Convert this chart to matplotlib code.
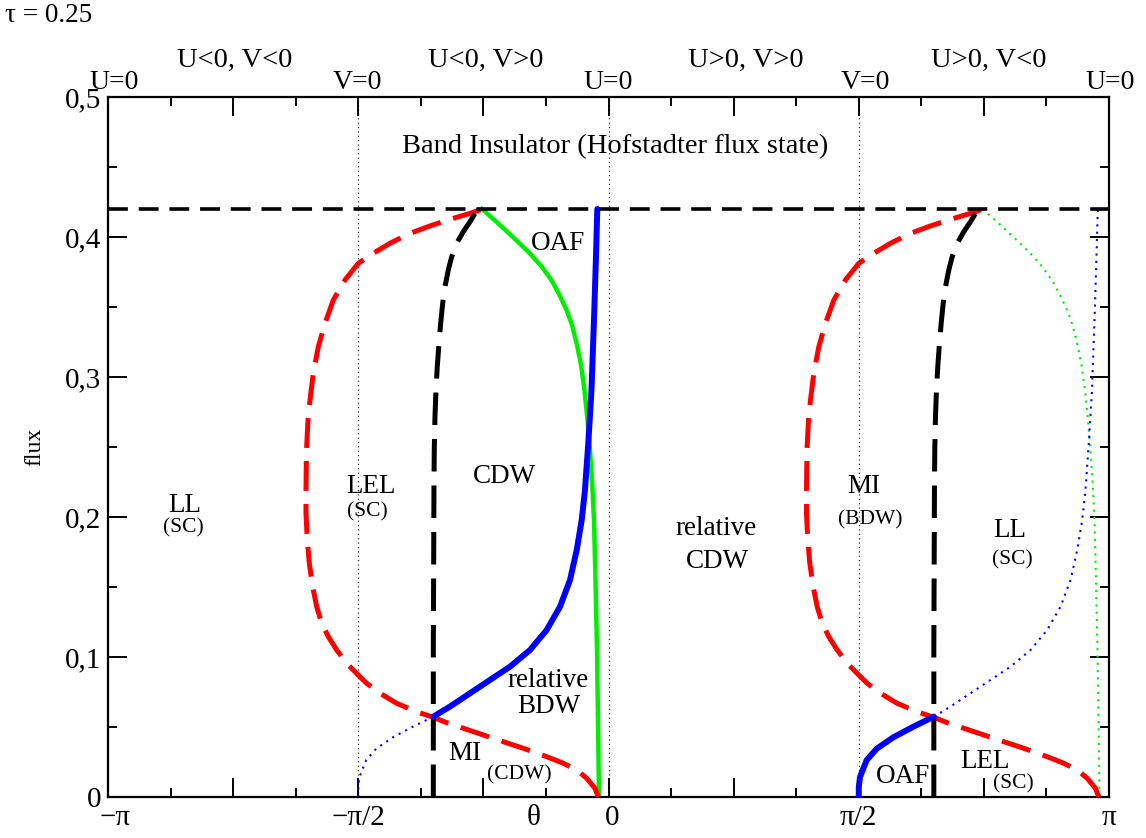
import matplotlib.pyplot as plt
import matplotlib.transforms as mtransforms
import numpy as np
from matplotlib.ticker import MultipleLocator

plt.rcParams['font.family'] = ['Liberation Serif', 'DejaVu Serif']

# theta values are stored in units of pi, flux in flux quanta
flux_band = 0.42

# ---- left half (theta < 0) ----
red_l_th = [-0.0204, -0.0270, -0.0436, -0.0635, -0.0903, -0.1235, -0.1702, -0.2102, -0.2501, -0.2901,
            -0.3233, -0.3500, -0.3832, -0.4232, -0.4565, -0.4831, -0.4999, -0.5199, -0.5431, -0.5598,
            -0.5730, -0.5830, -0.5910, -0.5978, -0.6018, -0.6044, -0.6044, -0.6034, -0.6004, -0.5964,
            -0.5898, -0.5798, -0.5664, -0.5498, -0.5265, -0.4999, -0.4699, -0.4366, -0.3966, -0.3566,
            -0.3167, -0.2767, -0.2560]
red_l_fl = [0.0, 0.0062, 0.0134, 0.0193, 0.0241, 0.0288, 0.0348, 0.0395, 0.0443, 0.0491,
            0.0531, 0.0569, 0.0609, 0.0669, 0.0741, 0.0812, 0.0871, 0.0943, 0.1050, 0.1145,
            0.1241, 0.1359, 0.1502, 0.1669, 0.1836, 0.2026, 0.2193, 0.2479, 0.2693, 0.2836,
            0.3026, 0.3216, 0.3384, 0.3550, 0.3693, 0.3812, 0.3884, 0.3955, 0.4026, 0.4079,
            0.4126, 0.4169, 0.4195]

blk_l_th = [-0.3500, -0.3500, -0.3492, -0.3487, -0.3481, -0.3467, -0.3447, -0.3421, -0.3387, -0.3353,
            -0.3313, -0.3267, -0.3201, -0.3133, -0.3033, -0.2901, -0.2767, -0.2667, -0.2580]
blk_l_fl = [0.0, 0.105, 0.1764, 0.2241, 0.2479, 0.2716, 0.2907, 0.3074, 0.3241, 0.3384,
            0.3526, 0.3645, 0.3764, 0.3859, 0.3955, 0.4038, 0.4109, 0.4169, 0.4200]

grn_l_th = [-0.2527, -0.2168, -0.1868, -0.1568, -0.1329, -0.1129, -0.0969, -0.0829, -0.0729, -0.0629,
            -0.0549, -0.0480, -0.0420, -0.0370, -0.0330, -0.0290, -0.0260, -0.0230, -0.0210, -0.0190]
grn_l_fl = [0.42, 0.4086, 0.3986, 0.3882, 0.3786, 0.3686, 0.3579, 0.3471, 0.3371, 0.3229,
            0.3086, 0.2907, 0.2693, 0.2479, 0.2264, 0.1979, 0.1550, 0.1050, 0.0550, 0.0]

blu_l_solid_th = [-0.3500, -0.3167, -0.2767, -0.2368, -0.1968, -0.1568, -0.1235, -0.0969, -0.0769,
                  -0.0635, -0.0535, -0.0470, -0.0404, -0.0340, -0.0290, -0.0250, -0.0224]
blu_l_solid_fl = [0.0574, 0.0646, 0.0741, 0.0836, 0.0931, 0.1050, 0.1193, 0.1359, 0.1550,
                  0.1764, 0.1979, 0.2193, 0.2526, 0.2907, 0.3407, 0.3859, 0.42]

blu_l_dot_th = [-0.5000, -0.4999, -0.4975, -0.4841, -0.4641, -0.4310, -0.3910, -0.3500]
blu_l_dot_fl = [0.0, 0.0071, 0.0143, 0.0264, 0.0345, 0.0426, 0.0502, 0.0574]

# ---- right half (theta > 0) ----
red_r_th = [0.9796, 0.9730, 0.9564, 0.9365, 0.9097, 0.8765, 0.8298, 0.7898, 0.7499, 0.7099,
            0.6767, 0.6500, 0.6168, 0.5768, 0.5435, 0.5169, 0.5001, 0.4801, 0.4569, 0.4402,
            0.4270, 0.4170, 0.4090, 0.4022, 0.3982, 0.3956, 0.3956, 0.3966, 0.3996, 0.4036,
            0.4102, 0.4202, 0.4336, 0.4502, 0.4735, 0.5001, 0.5301, 0.5634, 0.6034, 0.6434,
            0.6833, 0.7233, 0.7440]
red_r_fl = red_l_fl

blk_r_th = [0.6500, 0.6500, 0.6508, 0.6513, 0.6519, 0.6533, 0.6553, 0.6579, 0.6613, 0.6647,
            0.6687, 0.6733, 0.6799, 0.6867, 0.6967, 0.7099, 0.7233, 0.7333, 0.7420]
blk_r_fl = blk_l_fl

grn_r_th = [0.7473, 0.7832, 0.8132, 0.8432, 0.8671, 0.8871, 0.9031, 0.9171, 0.9271, 0.9371,
            0.9451, 0.9520, 0.9580, 0.9630, 0.9670, 0.9710, 0.9740, 0.9770, 0.9790, 0.9810]
grn_r_fl = grn_l_fl

blu_r_solid_th = [0.5000, 0.5001, 0.5025, 0.5159, 0.5359, 0.5690, 0.6090, 0.6500]
blu_r_solid_fl = blu_l_dot_fl

blu_r_dot_th = [0.6500, 0.6833, 0.7233, 0.7632, 0.8032, 0.8432, 0.8765, 0.9031, 0.9231,
                0.9365, 0.9465, 0.9530, 0.9596, 0.9660, 0.9710, 0.9750, 0.9776]
blu_r_dot_fl = blu_l_solid_fl

PI = np.pi
def th(v):
    return np.array(v) * PI

fig = plt.figure(figsize=(11.46, 8.38), dpi=100)
ax = fig.add_axes([108/1146, 1 - 797/838, 1001/1146, 700/838])

# phase boundaries U=0 / V=0
for x in (-PI/2, 0, PI/2):
    ax.axvline(x, color='#333333', lw=0.9, ls=(0, (1, 2.5)), zorder=1)

red_kw = dict(color='#ff0000', lw=3.6, ls=(0, (6, 2.6)), zorder=3)
blk_kw = dict(color='black', lw=3.6, ls=(0, (6.5, 2.8)), zorder=3)

ax.plot(th(red_l_th), red_l_fl, **red_kw)
ax.plot(th(red_r_th), red_r_fl, **red_kw)
ax.plot(th(blk_l_th), blk_l_fl, **blk_kw)
ax.plot(th(blk_r_th), blk_r_fl, **blk_kw)

ax.plot(th(grn_l_th), grn_l_fl, color='#00ee00', lw=3.2, zorder=2)
ax.plot(th(grn_r_th), grn_r_fl, color='#00ee00', lw=1.5, ls=(0, (1, 2.5)), zorder=2)

ax.plot(th(blu_l_solid_th), blu_l_solid_fl, color='#0000ff', lw=4.3, zorder=4, solid_capstyle='round')
ax.plot(th(blu_r_solid_th), blu_r_solid_fl, color='#0000ff', lw=4.3, zorder=4, solid_capstyle='round')
ax.plot(th(blu_l_dot_th), blu_l_dot_fl, color='#0000ff', lw=1.5, ls=(0, (1, 2.5)), zorder=2)
ax.plot(th(blu_r_dot_th), blu_r_dot_fl, color='#0000ff', lw=1.5, ls=(0, (1, 2.5)), zorder=2)

ax.axhline(flux_band, color='black', lw=2.6, ls=(0, (5.5, 3)), zorder=5)

ax.set_xlim(-PI, PI)
ax.set_ylim(0, 0.5)

ax.set_xticks(np.arange(-4, 5) * PI / 4)
ax.set_xticklabels(['\u2212\u03c0', '', '\u2212\u03c0/2', '', '0', '', '\u03c0/2', '', '\u03c0'])
ax.xaxis.set_minor_locator(MultipleLocator(PI / 8))
ax.set_yticks([0, 0.1, 0.2, 0.3, 0.4, 0.5])
ax.set_yticklabels(['0', '0,1', '0,2', '0,3', '0,4', '0,5'])
ax.yaxis.set_minor_locator(MultipleLocator(0.05))
ax.tick_params(which='both', direction='in', top=True, right=True, width=1.4, labelsize=21)
ax.tick_params(which='major', length=13.5)
ax.tick_params(which='minor', length=6.5)
ax.tick_params(axis='x', pad=6)
ax.tick_params(axis='y', pad=5)
for s in ax.spines.values():
    s.set_linewidth(1.6)

# nudge "-pi" and "0" a little to the right, as in the original
xlabs = ax.get_xticklabels()
for i, dx in ((0, 0.07), (4, 0.04)):
    xlabs[i].set_transform(xlabs[i].get_transform() +
                           mtransforms.ScaledTranslation(dx, 0, fig.dpi_scale_trans))

ax.set_xlabel('\u03b8', fontsize=21)
ax.xaxis.set_label_coords(0.4256, -0.012)
ax.set_ylabel('flux', fontsize=17)
ax.yaxis.set_label_coords(-0.063, 0.5)

fig.text(5/1146, 1 - 15/838, '\u03c4 = 0.25', fontsize=19.5, va='center', ha='left')

# labels above the frame
tr = ax.get_xaxis_transform()
for x, s in [(-0.746, 'U<0, V<0'), (-0.245, 'U<0, V>0'), (0.275, 'U>0, V>0'), (0.760, 'U>0, V<0')]:
    ax.text(x * PI, 1.043, s, transform=tr, ha='center', va='baseline', fontsize=20.5, clip_on=False)
for x, s in [(-0.988, 'U=0'), (-0.502, 'V=0'), (0.0, 'U=0'), (0.514, 'V=0'), (1.002, 'U=0')]:
    ax.text(x * PI, 1.0114, s, transform=tr, ha='center', va='baseline', fontsize=20, clip_on=False)

# phase names
ax.text(0.013 * PI, 0.460, 'Band Insulator (Hofstadter flux state)', ha='center', va='baseline',
        fontsize=20.5, zorder=6)
big = [(-0.101, 0.391, 'OAF'), (-0.207, 0.224, 'CDW'),
       (-0.846, 0.2036, 'LL'), (-0.475, 0.217, 'LEL'),
       (-0.121, 0.0786, 'relative'), (-0.119, 0.060, 'BDW'),
       (-0.287, 0.0264, 'MI'),
       (0.215, 0.187, 'relative'), (0.217, 0.1636, 'CDW'),
       (0.510, 0.217, 'MI'), (0.802, 0.186, 'LL'),
       (0.588, 0.010, 'OAF'), (0.752, 0.0207, 'LEL')]
small = [(-0.850, 0.189, '(SC)'), (-0.482, 0.2007, '(SC)'), (-0.179, 0.0128, '(CDW)'),
         (0.522, 0.195, '(BDW)'), (0.806, 0.166, '(SC)'), (0.808, 0.006, '(SC)')]
for x, y, s in big:
    ax.text(x * PI, y, s, ha='center', va='baseline', fontsize=19.5, zorder=6)
for x, y, s in small:
    ax.text(x * PI, y, s, ha='center', va='baseline', fontsize=15.5, zorder=6)

fig.savefig('out.png', dpi=100)
